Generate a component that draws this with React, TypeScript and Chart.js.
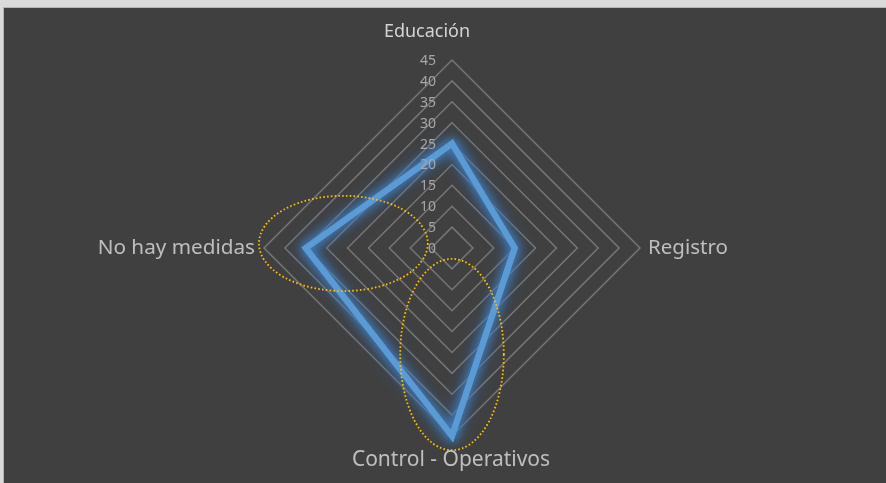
import React, { useEffect, useRef } from "react";
import { Chart, registerables } from "chart.js";

Chart.register(...registerables);

// ---- data ----
const categories = ["Educación", "Registro", "Control - Operativos", "No hay medidas"];
const seriesValues = [25, 15, 45, 35];
const scaleMin = 0;
const scaleMax = 45;
const scaleStep = 5;

// ---- styling / annotation config ----
const FONT = "'Noto Sans', 'Open Sans', sans-serif";
const pointLabelStyle = [
  { size: 18, color: "#d4d4d4", pad: 28, dx: -25, align: "center" },
  { size: 20.5, color: "#bfbfbf", pad: 8, dx: 0, align: "left" },
  { size: 21, color: "#bfbfbf", pad: 24, dx: -1, align: "center" },
  { size: 20.7, color: "#bfbfbf", pad: 9, dx: 0, align: "right" },
];
// highlight ellipses, expressed in scale units along an axis
const ellipses = [
  { axis: 3, along: 26, across: -1.1, rx: 20.2, ry: 11.4 },
  { axis: 2, along: 25.5, across: 0, rx: 12.4, ry: 22.9 },
];

const decorPlugin = {
  id: "decor",
  beforeDraw(chart: any) {
    const { ctx, width, height } = chart;
    ctx.save();
    ctx.fillStyle = "#dadada";
    ctx.fillRect(0, 0, width, height);
    ctx.fillStyle = "#b4b4b4";
    ctx.fillRect(3, 7, width - 3, height - 7);
    ctx.fillStyle = "#404040";
    ctx.fillRect(4, 8, width - 4, height - 8);
    ctx.restore();
  },
  beforeDatasetDraw(chart: any, args: any) {
    const ctx = chart.ctx;
    const meta = args.meta;
    // glow passes underneath the line
    if (meta && meta.dataset) {
      [18, 12].forEach((blur) => {
        ctx.save();
        ctx.shadowColor = "rgba(60,120,185,1)";
        ctx.shadowBlur = blur;
        ctx.shadowOffsetX = 0;
        ctx.shadowOffsetY = 0;
        meta.dataset.draw(ctx, chart.chartArea);
        ctx.restore();
      });
    }
    ctx.save();
    ctx.shadowColor = "rgba(70,130,195,0.9)";
    ctx.shadowBlur = 8;
  },
  afterDatasetDraw(chart: any) {
    chart.ctx.restore();
  },
  afterDatasetsDraw(chart: any) {
    const ctx = chart.ctx;
    const scale = chart.scales.r;
    const R = scale.drawingArea;
    const cx = scale.xCenter;
    const cy = scale.yCenter;

    // ellipses
    ctx.save();
    ctx.strokeStyle = "#FFC000";
    ctx.lineWidth = 1.8;
    ctx.setLineDash([1.6, 2.2]);
    ellipses.forEach((e) => {
      const p = scale.getPointPosition(e.axis, scale.getDistanceFromCenterForValue(e.along));
      const off = scale.getDistanceFromCenterForValue(Math.abs(e.across)) * Math.sign(e.across);
      const horizontal = Math.abs(p.y - cy) < 1;
      const x = horizontal ? p.x : p.x + off;
      const y = horizontal ? p.y + off : p.y;
      ctx.beginPath();
      ctx.ellipse(
        x,
        y,
        scale.getDistanceFromCenterForValue(e.rx),
        scale.getDistanceFromCenterForValue(e.ry),
        0,
        0,
        Math.PI * 2
      );
      ctx.stroke();
    });
    ctx.restore();

    // tick labels
    ctx.save();
    ctx.font = `14px ${FONT}`;
    ctx.fillStyle = "#a8a8a8";
    ctx.textAlign = "right";
    ctx.textBaseline = "middle";
    scale.ticks.forEach((t: any) => {
      const d = scale.getDistanceFromCenterForValue(t.value);
      ctx.fillText(String(t.value), cx - 16, cy - d + 1);
    });
    ctx.restore();

    // point labels
    ctx.save();
    ctx.textBaseline = "middle";
    categories.forEach((label, i) => {
      const st = pointLabelStyle[i];
      const p = scale.getPointPosition(i, R + st.pad);
      ctx.font = `${st.size}px ${FONT}`;
      ctx.fillStyle = st.color;
      ctx.textAlign = st.align;
      ctx.fillText(label, p.x + st.dx, p.y);
    });
    ctx.restore();
  },
};

export default function App() {
  const ref = useRef<HTMLCanvasElement | null>(null);
  useEffect(() => {
    if (!ref.current) return;
    const chart = new Chart(ref.current, {
      type: "radar",
      data: {
        labels: categories,
        datasets: [
          {
            label: "Serie",
            data: seriesValues,
            borderColor: "#5B9BD5",
            borderWidth: 6,
            borderJoinStyle: "miter",
            fill: false,
            pointRadius: 0,
            pointHoverRadius: 0,
          },
        ],
      },
      options: {
        responsive: false,
        animation: false,
        layout: { padding: { left: 264, right: 246, top: 60, bottom: 47 } },
        plugins: { legend: { display: false }, tooltip: { enabled: false } },
        scales: {
          r: {
            min: scaleMin,
            max: scaleMax,
            beginAtZero: true,
            ticks: { stepSize: scaleStep, display: false },
            pointLabels: { display: false },
            angleLines: { display: false },
            grid: { color: "#767676", lineWidth: 1.5 },
          },
        },
      },
      plugins: [decorPlugin],
    } as any);
    return () => chart.destroy();
  }, []);
  return (
    <div style={{ position: "fixed", left: 0, top: 0, width: 886, height: 483 }}>
      <canvas ref={ref} width={886} height={483} style={{ display: "block" }} />
    </div>
  );
}
